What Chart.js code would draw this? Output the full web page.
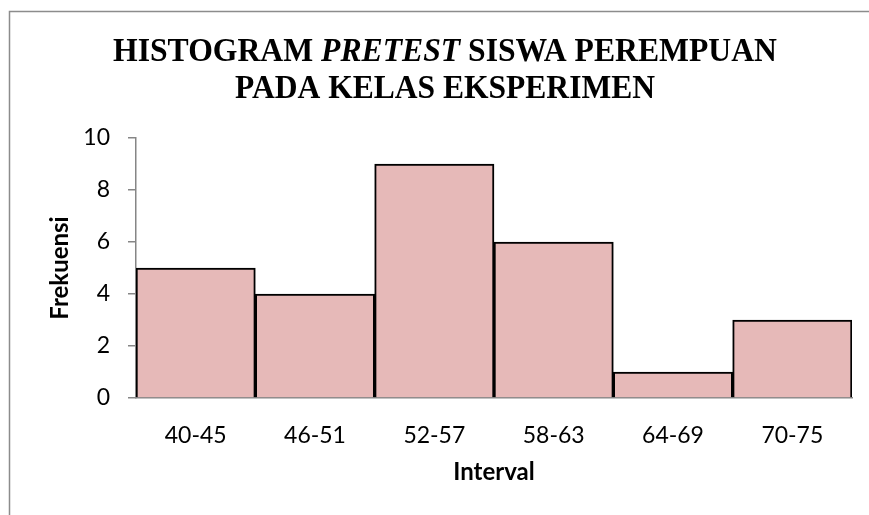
<!DOCTYPE html>
<html>
<head>
<meta charset="utf-8">
<script src="https://cdn.jsdelivr.net/npm/chart.js@4"></script>
<style>
  html, body { margin: 0; padding: 0; background: #fff; }
  #wrap { width: 869px; height: 515px; position: relative; }
</style>
</head>
<body>
<div id="wrap"><canvas id="histCanvas"></canvas></div>
<script>
// data
const intervals = ["40-45", "46-51", "52-57", "58-63", "64-69", "70-75"];
const frekuensi = [5, 4, 9, 6, 1, 3];
const yTicks = [0, 2, 4, 6, 8, 10];

// title lines, each split into [text, italic]
const titleLine1 = [["HISTOGRAM ", false], ["PRETEST", true], [" SISWA PEREMPUAN", false]];
const titleLine2 = [["PADA KELAS EKSPERIMEN", false]];

const titleAndFrame = {
    id: "titleAndFrame",
    afterDraw(chart) {
        const ctx = chart.ctx;
        ctx.save();
        // outer frame
        ctx.strokeStyle = "#8c8c8c";
        ctx.lineWidth = 1.5;
        ctx.strokeRect(9.5, 11.5, 900, 600);

        const size = 33;
        const drawLine = (parts, baseline, targetWidth) => {
            let total = 0;
            parts.forEach(p => {
                ctx.font = (p[1] ? "italic " : "") + "bold " + size + "px 'Liberation Serif', 'Times New Roman', serif";
                total += ctx.measureText(p[0]).width;
            });
            const sx = targetWidth / total;
            ctx.save();
            ctx.translate(445 - targetWidth / 2, baseline);
            ctx.scale(sx, 1);
            let x = 0;
            ctx.fillStyle = "#000";
            ctx.textBaseline = "alphabetic";
            ctx.textAlign = "left";
            parts.forEach(p => {
                ctx.font = (p[1] ? "italic " : "") + "bold " + size + "px 'Liberation Serif', 'Times New Roman', serif";
                ctx.fillText(p[0], x, 0);
                x += ctx.measureText(p[0]).width;
            });
            ctx.restore();
        };
        drawLine(titleLine1, 61, 664);
        drawLine(titleLine2, 98, 420);
        ctx.restore();
    }
};

const histChart = new Chart(document.getElementById("histCanvas"), {
    type: "bar",
    data: {
        labels: intervals,
        datasets: [{
            label: "Frekuensi",
            data: frekuensi,
            backgroundColor: "#E6B9B8",
            borderColor: "#000000",
            borderWidth: 2,
            borderSkipped: "bottom",
            barPercentage: 1.0,
            categoryPercentage: 1.0
        }]
    },
    options: {
        responsive: true,
        maintainAspectRatio: false,
        animation: false,
        layout: {
            padding: { top: 138, right: 17, bottom: 24, left: 42 }
        },
        plugins: {
            legend: { display: false },
            tooltip: { enabled: false }
        },
        scales: {
            x: {
                grid: { display: false },
                border: { color: "#868686", width: 1.5 },
                ticks: {
                    color: "#000",
                    padding: 16,
                    font: { family: "Lato", size: 23 }
                },
                title: {
                    display: true,
                    text: "Interval",
                    color: "#000",
                    padding: { top: 0, bottom: 4 },
                    font: { family: "Lato", size: 24, weight: "bold" }
                },
                afterFit(scale) { scale.height = 93; }
            },
            y: {
                min: 0,
                max: 10,
                afterBuildTicks(scale) { scale.ticks = yTicks.map(v => ({ value: v })); },
                grid: {
                    drawOnChartArea: false,
                    drawTicks: true,
                    tickLength: 8,
                    color: "#868686",
                    lineWidth: 1.5
                },
                border: { color: "#868686", width: 1.5 },
                ticks: {
                    color: "#000",
                    padding: 18,
                    font: { family: "Lato", size: 23 }
                },
                title: {
                    display: true,
                    text: "Frekuensi",
                    color: "#000",
                    padding: { top: 4, bottom: 0 },
                    font: { family: "Lato", size: 24, weight: "bold" }
                },
                afterFit(scale) { scale.width = 94; }
            }
        }
    },
    plugins: [titleAndFrame]
});
</script>
</body>
</html>
